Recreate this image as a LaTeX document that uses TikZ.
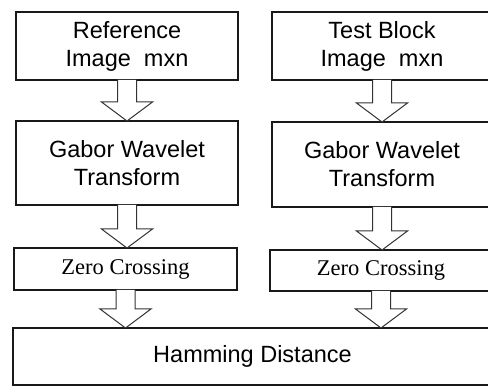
\documentclass[tikz,border=0pt]{standalone}
\usepackage{fontspec}
\setmainfont{Liberation Sans}
\newfontfamily\serifface{Liberation Serif}
\usetikzlibrary{calc}
\tikzset{
  stagebox/.style={draw=black!90, line width=1.2pt, align=center, inner sep=0pt, outer sep=0pt, text=black, font=\fontsize{23.5}{28}\selectfont},
  zerobox/.style={stagebox, font=\serifface\fontsize{22.5}{27}\selectfont},
  fatarrow/.style={draw=black!80, line width=1pt, fill=white, line join=miter}
}
% hollow block arrow from the bottom of #1 down to the top of #2
\newcommand{\blockarrow}[2]{%
  \draw[fatarrow] ($(#1.south)+(-9.5,0)$) -- ($(#1.south |- #2.north)+(-9.5,-19)$)
    -- ($(#1.south |- #2.north)+(-25.5,-19)$) -- (#1.south |- #2.north)
    -- ($(#1.south |- #2.north)+(25.5,-19)$) -- ($(#1.south |- #2.north)+(9.5,-19)$)
    -- ($(#1.south)+(9.5,0)$);}

\begin{document}
\begin{tikzpicture}[x=1pt, y=-1pt]
  \useasboundingbox[fill=white] (0,0) rectangle (488,387);

  \node[stagebox, minimum width=222pt, minimum height=68pt] (refimg) at (127,46) {Reference\\Image~~mxn};
  \node[stagebox, minimum width=220pt, minimum height=68pt] (testimg) at (382,46) {Test Block\\Image~~mxn};
  \node[stagebox, minimum width=222pt, minimum height=84pt] (gaborL) at (127,163) {Gabor Wavelet\\Transform};
  \node[stagebox, minimum width=220pt, minimum height=85pt] (gaborR) at (382,164.5) {Gabor Wavelet\\Transform};
  \node[zerobox, minimum width=223pt, minimum height=42pt] (zeroL) at (125.5,269) {Zero Crossing};
  \node[zerobox, minimum width=222pt, minimum height=41pt] (zeroR) at (381,270.5) {Zero Crossing};
  \node[stagebox, minimum width=479pt, minimum height=57pt] (hamming) at (252.5,356.5) {Hamming Distance};

  \blockarrow{refimg}{gaborL}
  \blockarrow{testimg}{gaborR}
  \blockarrow{gaborL}{zeroL}
  \blockarrow{gaborR}{zeroR}
  \blockarrow{zeroL}{hamming}
  \blockarrow{zeroR}{hamming}
\end{tikzpicture}
\end{document}
